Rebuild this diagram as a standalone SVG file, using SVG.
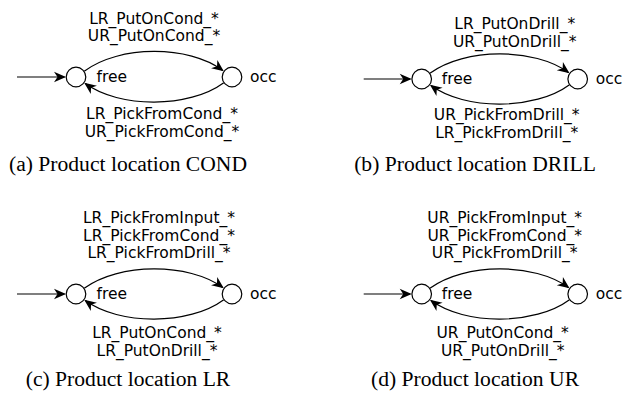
<svg xmlns="http://www.w3.org/2000/svg" width="642" height="398" viewBox="0 0 642 398">
<defs>
<style>
.st{fill:#fff;stroke:#000;stroke-width:1.2}
.ed{fill:none;stroke:#000;stroke-width:1.2}
.lb{font-family:"DejaVu Sans",sans-serif;font-size:15.5px;fill:#000;text-anchor:middle}
.nm{font-family:"DejaVu Sans",sans-serif;font-size:15.5px;fill:#000}
.cap{font-family:"Liberation Serif",serif;font-size:21.6px;fill:#000;text-anchor:middle}
</style>
<marker id="ah" markerUnits="userSpaceOnUse" viewBox="-13 -6 15 12" refX="0" refY="0" markerWidth="15" markerHeight="12" orient="auto">
<path d="M1.5,0 L-10.5,-5.2 L-7,0 L-10.5,5.2 Z" fill="#000"/>
</marker>
</defs>
<rect width="642" height="398" fill="#fff"/>

<!-- Panel a -->
<g id="panel-a" transform="translate(76,77)">
<g id="a-edges">
<path class="ed" d="M-59,0 L-11.5,0" marker-end="url(#ah)"/>
<path class="ed" d="M8.2,-5.7 C43,-32 113,-32 146.6,-6.6" marker-end="url(#ah)"/>
<path class="ed" d="M147.8,5.7 C113,31.4 43,31.4 9.4,6.6" marker-end="url(#ah)"/>
</g>
<g id="a-free"><circle class="st" cx="0" cy="0" r="9.8"/><text class="nm" x="20.5" y="5.3">free</text></g>
<g id="a-occ"><circle class="st" cx="156" cy="0" r="9.8"/><text class="nm" x="174" y="5.3">occ</text></g>
<text class="lb" x="78" y="-53">LR_PutOnCond_*</text>
<text class="lb" x="78" y="-36">UR_PutOnCond_*</text>
<text class="lb" x="86" y="42">LR_PickFromCond_*</text>
<text class="lb" x="86" y="60">UR_PickFromCond_*</text>
</g>
<text class="cap" x="128" y="171">(a) Product location COND</text>

<!-- Panel b -->
<g id="panel-b" transform="translate(421.7,79)">
<g id="b-edges">
<path class="ed" d="M-58,0 L-11.5,0" marker-end="url(#ah)"/>
<path class="ed" d="M8.2,-5.7 C43,-31.4 113,-31.4 146.6,-6.6" marker-end="url(#ah)"/>
<path class="ed" d="M147.8,5.7 C113,31.4 43,31.4 9.4,6.6" marker-end="url(#ah)"/>
</g>
<g id="b-free"><circle class="st" cx="0" cy="0" r="9.8"/><text class="nm" x="20" y="4.5">free</text></g>
<g id="b-occ"><circle class="st" cx="156" cy="0" r="9.8"/><text class="nm" x="174" y="4.5">occ</text></g>
<text class="lb" x="93" y="-50">LR_PutOnDrill_*</text>
<text class="lb" x="93" y="-32.5">UR_PutOnDrill_*</text>
<text class="lb" x="85" y="41">UR_PickFromDrill_*</text>
<text class="lb" x="85" y="59">LR_PickFromDrill_*</text>
</g>
<text class="cap" x="475" y="171">(b) Product location DRILL</text>

<!-- Panel c -->
<g id="panel-c" transform="translate(76,294)">
<g id="c-edges">
<path class="ed" d="M-59,0 L-11.5,0" marker-end="url(#ah)"/>
<path class="ed" d="M8.2,-5.7 C43,-31.4 113,-31.4 146.6,-6.6" marker-end="url(#ah)"/>
<path class="ed" d="M147.8,5.7 C113,31.4 43,31.4 9.4,6.6" marker-end="url(#ah)"/>
</g>
<g id="c-free"><circle class="st" cx="0" cy="0" r="9.8"/><text class="nm" x="20.5" y="5">free</text></g>
<g id="c-occ"><circle class="st" cx="156" cy="0" r="9.8"/><text class="nm" x="174" y="5">occ</text></g>
<text class="lb" x="83" y="-71">LR_PickFromInput_*</text>
<text class="lb" x="83" y="-53.5">LR_PickFromCond_*</text>
<text class="lb" x="83" y="-36">LR_PickFromDrill_*</text>
<text class="lb" x="81" y="44">LR_PutOnCond_*</text>
<text class="lb" x="81" y="62">LR_PutOnDrill_*</text>
</g>
<text class="cap" x="128" y="386">(c) Product location LR</text>

<!-- Panel d -->
<g id="panel-d" transform="translate(421.7,294)">
<g id="d-edges">
<path class="ed" d="M-58,0 L-11.5,0" marker-end="url(#ah)"/>
<path class="ed" d="M8.2,-5.7 C43,-31.4 113,-31.4 146.6,-6.6" marker-end="url(#ah)"/>
<path class="ed" d="M147.8,5.7 C113,31.4 43,31.4 9.4,6.6" marker-end="url(#ah)"/>
</g>
<g id="d-free"><circle class="st" cx="0" cy="0" r="9.8"/><text class="nm" x="20" y="5">free</text></g>
<g id="d-occ"><circle class="st" cx="156" cy="0" r="9.8"/><text class="nm" x="174" y="5">occ</text></g>
<text class="lb" x="83" y="-71">UR_PickFromInput_*</text>
<text class="lb" x="83" y="-53.5">UR_PickFromCond_*</text>
<text class="lb" x="83" y="-36">UR_PickFromDrill_*</text>
<text class="lb" x="81" y="44">UR_PutOnCond_*</text>
<text class="lb" x="81" y="62">UR_PutOnDrill_*</text>
</g>
<text class="cap" x="475" y="386">(d) Product location UR</text>
</svg>
